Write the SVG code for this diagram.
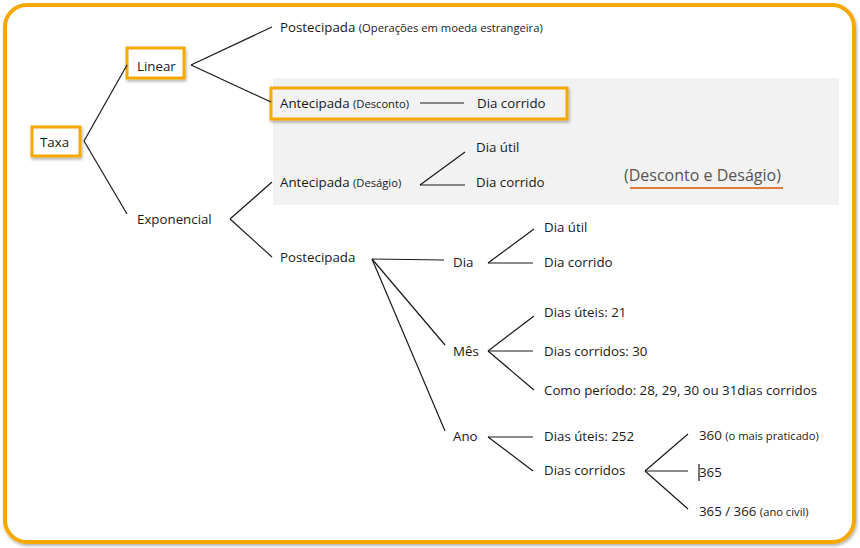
<svg xmlns="http://www.w3.org/2000/svg" width="860" height="548" viewBox="0 0 860 548">
<defs>
<filter id="sh" x="-10%" y="-10%" width="130%" height="140%"><feDropShadow dx="1" dy="2" stdDeviation="1.5" flood-color="#000" flood-opacity="0.3"/></filter>
<style>
text{font-family:"Open Sans","Noto Sans",sans-serif;font-size:13.3px;fill:#1a1a1a}
.s{font-size:11.2px}
.box{fill:#fff;stroke:#F5A800;stroke-width:3}
.c line{stroke:#1a1a1a;stroke-width:1.2}
</style>
</defs>
<rect x="0" y="0" width="860" height="548" fill="#fff"/>
<rect x="5" y="5" width="849" height="537" rx="22" fill="#fff" stroke="#F5A800" stroke-width="4" filter="url(#sh)"/>
<rect x="273" y="78" width="566" height="127" fill="#f2f2f2"/>
<g id="taxa"><rect class="box" x="32" y="127" width="48" height="29" filter="url(#sh)"/><text x="40" y="147">Taxa</text></g>
<g id="linear"><rect class="box" x="127" y="48" width="57" height="30" filter="url(#sh)"/><text x="137" y="71">Linear</text></g>
<g id="exponencial"><text x="137" y="224">Exponencial</text></g>
<g id="postecipada-lin"><text x="280" y="32">Postecipada <tspan class="s">(Operações em moeda estrangeira)</tspan></text></g>
<g id="antecipada-desconto"><rect class="box" x="271" y="88" width="296" height="31" style="fill:#f2f2f2" filter="url(#sh)"/><text x="280" y="108">Antecipada <tspan class="s">(Desconto)</tspan></text><text x="477" y="108">Dia corrido</text></g>
<g id="antecipada-desagio"><text x="280" y="187">Antecipada <tspan class="s">(Deságio)</tspan></text></g>
<g id="desagio-util"><text x="476" y="152">Dia útil</text></g>
<g id="desagio-corrido"><text x="476" y="187">Dia corrido</text></g>
<g id="nota"><text x="624" y="181" style="font-size:16px;fill:#555">(Desconto e Deságio)</text><line x1="630" y1="188" x2="783" y2="188" stroke="#E07B39" stroke-width="2"/></g>
<g id="postecipada-exp"><text x="280" y="262">Postecipada</text></g>
<g id="dia"><text x="453" y="267">Dia</text></g>
<g id="dia-util"><text x="544" y="232">Dia útil</text></g>
<g id="dia-corrido"><text x="544" y="267">Dia corrido</text></g>
<g id="mes"><text x="453" y="356">Mês</text></g>
<g id="mes-uteis"><text x="544" y="317">Dias úteis: 21</text></g>
<g id="mes-corridos"><text x="544" y="356">Dias corridos: 30</text></g>
<g id="mes-periodo"><text x="544" y="395">Como período: 28, 29, 30 ou 31dias corridos</text></g>
<g id="ano"><text x="453" y="441">Ano</text></g>
<g id="ano-uteis"><text x="544" y="441">Dias úteis: 252</text></g>
<g id="ano-corridos"><text x="544" y="475">Dias corridos</text></g>
<g id="d360"><text x="699" y="440">360 <tspan class="s">(o mais praticado)</tspan></text></g>
<g id="d365"><text x="699" y="477">365</text></g>
<g id="d366"><text x="699" y="516">365 / 366 <tspan class="s">(ano civil)</tspan></text></g>
<g class="c">
<line x1="84" y1="141" x2="127" y2="65"/>
<line x1="84" y1="141" x2="127" y2="214"/>
<line x1="191" y1="65" x2="272" y2="27"/>
<line x1="191" y1="65" x2="271" y2="102"/>
<line x1="420" y1="103" x2="464" y2="103"/>
<line x1="230" y1="219" x2="272" y2="182"/>
<line x1="230" y1="219" x2="272" y2="257"/>
<line x1="420" y1="185" x2="465" y2="152"/>
<line x1="420" y1="185" x2="465" y2="185"/>
<line x1="372" y1="259" x2="444" y2="260"/>
<line x1="372" y1="259" x2="445" y2="345"/>
<line x1="372" y1="259" x2="445" y2="431"/>
<line x1="488" y1="263" x2="534" y2="229"/>
<line x1="488" y1="263" x2="533" y2="263"/>
<line x1="488" y1="351" x2="534" y2="316"/>
<line x1="488" y1="351" x2="533" y2="351"/>
<line x1="488" y1="351" x2="534" y2="390"/>
<line x1="488" y1="437" x2="533" y2="437"/>
<line x1="488" y1="437" x2="533" y2="471"/>
<line x1="645" y1="471" x2="688" y2="434"/>
<line x1="645" y1="471" x2="688" y2="471"/>
<line x1="645" y1="471" x2="688" y2="509"/>
<line x1="699" y1="464" x2="699" y2="481"/>
</g>
</svg>
